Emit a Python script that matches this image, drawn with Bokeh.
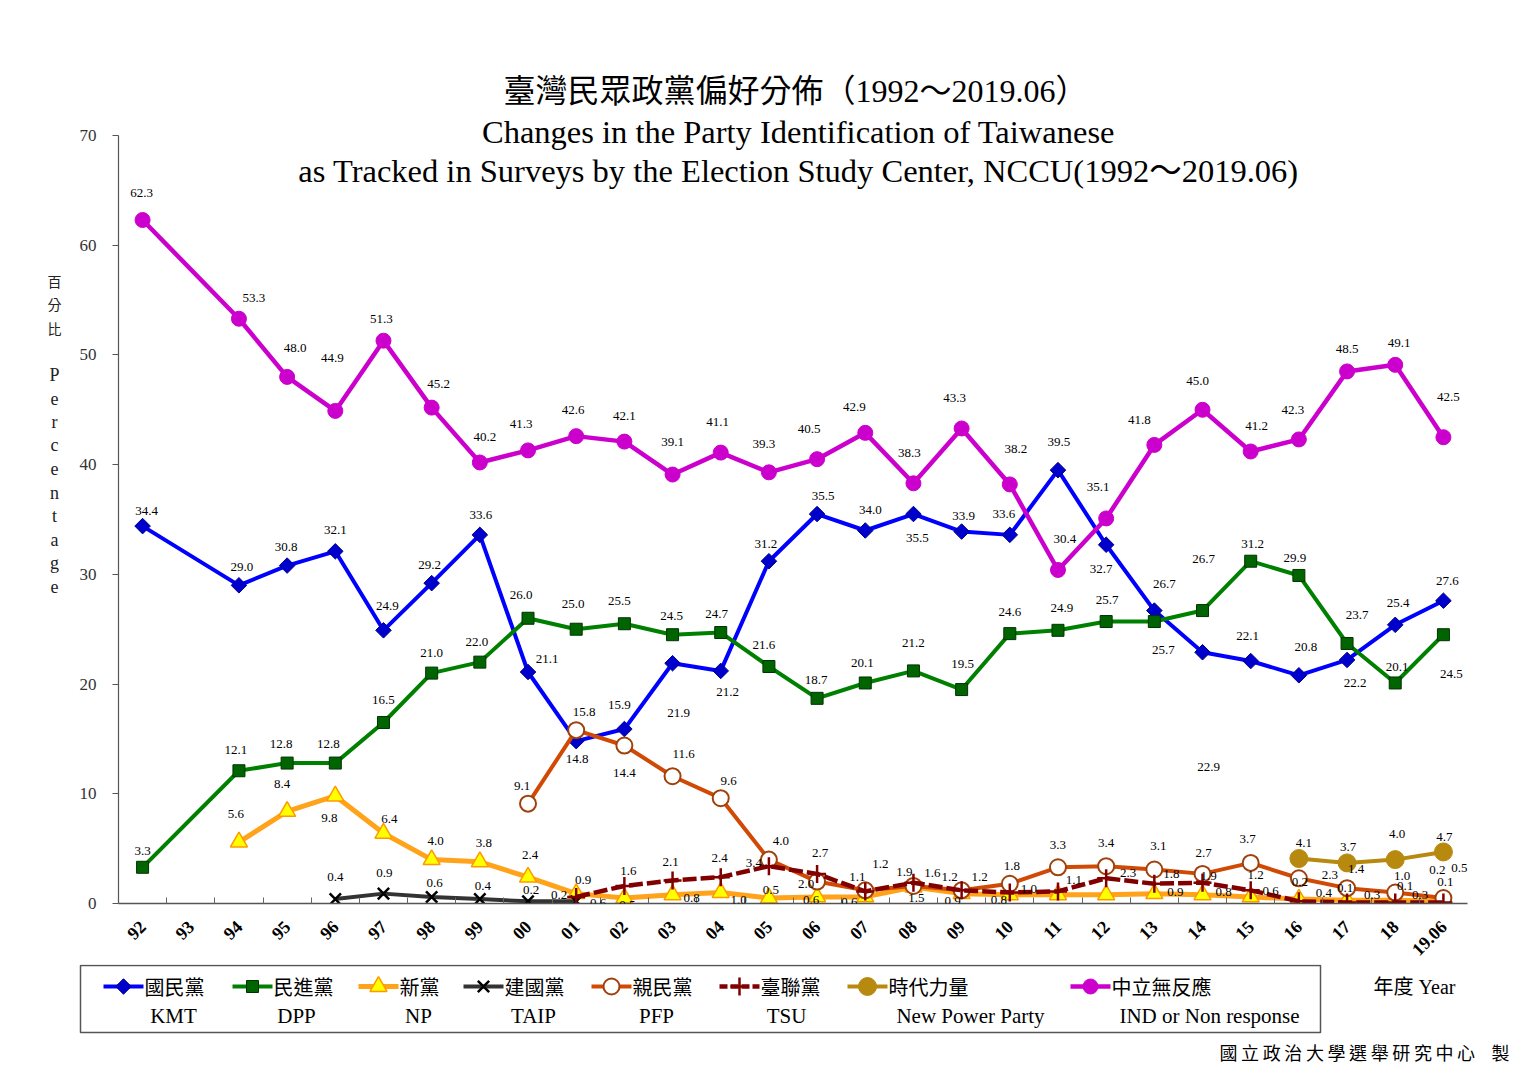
import math
from bokeh.plotting import figure
from bokeh.models import ColumnDataSource, Range1d, FixedTicker, LabelSet
from bokeh.layouts import column, row
from bokeh.embed import file_html
from bokeh.resources import INLINE
from bokeh.core.properties import value

# ---------------- data ----------------
years = ["92", "93", "94", "95", "96", "97", "98", "99", "00", "01", "02", "03", "04",
         "05", "06", "07", "08", "09", "10", "11", "12", "13", "14", "15", "16", "17",
         "18", "19.06"]

kmt = [34.4, None, 29.0, 30.8, 32.1, 24.9, 29.2, 33.6, 21.1, 14.8, 15.9, 21.9, 21.2,
       31.2, 35.5, 34.0, 35.5, 33.9, 33.6, 39.5, 32.7, 26.7, 22.9, 22.1, 20.8, 22.2,
       25.4, 27.6]
dpp = [3.3, None, 12.1, 12.8, 12.8, 16.5, 21.0, 22.0, 26.0, 25.0, 25.5, 24.5, 24.7,
       21.6, 18.7, 20.1, 21.2, 19.5, 24.6, 24.9, 25.7, 25.7, 26.7, 31.2, 29.9, 23.7,
       20.1, 24.5]
np_party = [None, None, 5.6, 8.4, 9.8, 6.4, 4.0, 3.8, 2.4, 0.9, 0.5, 0.8, 1.0,
            0.5, 0.6, 0.6, 1.5, 0.9, 0.8, 0.8, 0.8, 0.9, 0.8, 0.6, 0.4, 0.3,
            0.3, 0.2]
taip = [None, None, None, None, 0.4, 0.9, 0.6, 0.4, 0.2, 0.2] + [None] * 18
pfp = [None] * 8 + [9.1, 15.8, 14.4, 11.6, 9.6, 4.0, 2.0, 1.2, 1.6, 1.2, 1.8, 3.3,
                    3.4, 3.1, 2.7, 3.7, 2.3, 1.4, 1.0, 0.5]
tsu = [None] * 9 + [0.6, 1.6, 2.1, 2.4, 3.4, 2.7, 1.1, 1.9, 1.2, 1.0, 1.1, 2.3, 1.8,
                    1.9, 1.2, 0.2, 0.1, 0.1, 0.1]
npp = [None] * 24 + [4.1, 3.7, 4.0, 4.7]
ind = [62.3, None, 53.3, 48.0, 44.9, 51.3, 45.2, 40.2, 41.3, 42.6, 42.1, 39.1, 41.1,
       39.3, 40.5, 42.9, 38.3, 43.3, 38.2, 30.4, 35.1, 41.8, 45.0, 41.2, 42.3, 48.5,
       49.1, 42.5]
y_ticks = [0, 10, 20, 30, 40, 50, 60, 70]

# ---------------- label placement (style): offset in px (right, down) ----------------
kmt_lab = [(4, -15), (3, -18), (-1, -19), (0, -21), (4, -24), (-2, -18), (1, -20),
           (19, -13), (1, 18), (-5, -24), (6, 50), (7, 21), (-3, -17), (6, -18),
           (5, -20), (4, 24), (2, -16), (-6, -21), (1, -28), (-5, 24), (10, -27),
           (6, 115), (-3, -25), (7, -28), (8, 23), (3, -22), (4, -20)]
dpp_lab = [(0, -16), (-3, -21), (-6, -19), (-7, -19), (0, -22), (0, -20), (-3, -20),
           (-7, -23), (-3, -25), (-5, -23), (-1, -19), (-4, -19), (-5, -22), (-1, -18),
           (-3, -20), (0, -28), (1, -26), (0, -22), (4, -22), (1, -22), (9, 28),
           (1, -52), (2, -17), (-4, -17), (10, -28), (2, -16), (8, 39)]
np_lab = [(-3, -28), (-5, -27), (-6, 22), (6, -14), (4, -19), (4, -19), (2, -22),
          (7, -14), (3, 7), (19, 3), (18, 7), (2, -8), (-6, 3), (-16, 5), (3, 11),
          (-9, 7), (-11, 5), None, None, (21, -2), (21, -3), (20, -6), (25, -6),
          (25, -5), (25, -5), (-6, -31)]
taip_lab = [(0, -22), (1, -21), (3, -14), (3, -13), (3, -11), (-17, -6)]
pfp_lab = [(-6, -18), (8, -18), (0, 27), (11, -22), (8, -17), (12, -19), (-11, 2),
           (15, -26), (19, -13), (18, -13), (2, -18), (0, -22), (0, -23), (4, -23),
           (1, -21), (-3, -24), (31, -3), (9, -19), (7, -17), (16, -30)]
tsu_lab = [(22, 6), (4, -15), (-2, -18), (-1, -19), (-15, -3), (3, -21), (-8, -14),
           (-9, -11), (-12, -13), (19, -4), (16, -11), (22, -5), (17, -10), (6, -7),
           (5, -15), (1, -19), (-2, -14), (10, -16), (2, -20)]
npp_lab = [(5, -16), (1, -16), (2, -26), (1, -15)]
ind_lab = [(-1, -27), (15, -21), (8, -29), (-3, -53), (-2, -22), (7, -24), (5, -25),
           (-7, -26), (-3, -26), (0, -26), (0, -33), (-3, -31), (-5, -28), (-8, -30),
           (-11, -26), (-4, -30), (-7, -30), (6, -35), (7, -31), (-8, -31), (-15, -25),
           (-5, -29), (6, -25), (-6, -29), (0, -22), (4, -22), (5, -40)]

SERIF = "Liberation Serif, Noto Sans CJK TC"
CJK = "Noto Sans CJK TC"

# geometry (page px)
YL_W = 76              # width of the y-title strip
FL, FW = 118, 1349     # frame left / width
AX_Y = 903             # page y of the x axis (value 0)
PX_PER_10 = 109.71     # page px per 10 percentage points
NCAT = len(years)
YTOP = AX_Y / PX_PER_10 * 10   # value at the very top of the frame
MAIN_H = 963
LEG_H = 120


def dxp(px):
    return (px - FL) / (FW / NCAT) - 0.5


def dyp(py):
    return (AX_Y - py) / PX_PER_10 * 10


series = [
    dict(vals=kmt, lab=kmt_lab, color="#0000FF", lw=4, dash="solid", marker="square",
         angle=math.pi / 4, size=11, fill="#0000CD", mline="#00008B", mlw=1),
    dict(vals=dpp, lab=dpp_lab, color="#008000", lw=4, dash="solid", marker="square",
         angle=0, size=12, fill="#006400", mline="#003300", mlw=1),
    dict(vals=np_party, lab=np_lab, color="#FFA31A", lw=5, dash="solid", marker="triangle",
         angle=0, size=17, fill="#FFFF00", mline="#FF9900", mlw=1.5),
    dict(vals=taip, lab=taip_lab, color="#333333", lw=4, dash="solid", marker="x",
         angle=0, size=16, fill="#000000", mline="#000000", mlw=2.5),
    dict(vals=pfp, lab=pfp_lab, color="#D04A05", lw=4, dash="solid", marker="circle",
         angle=0, size=16, fill="#FFFFFF", mline="#A0400A", mlw=2),
    dict(vals=tsu, lab=tsu_lab, color="#800000", lw=4.5, dash="14 4", marker="cross",
         angle=0, size=18, fill="#800000", mline="#800000", mlw=2.5),
    dict(vals=npp, lab=npp_lab, color="#B8890F", lw=4, dash="solid", marker="circle",
         angle=0, size=18, fill="#B8890F", mline="#B8890F", mlw=1),
    dict(vals=ind, lab=ind_lab, color="#CC00CC", lw=4.5, dash="solid", marker="circle",
         angle=0, size=15, fill="#CC00CC", mline="#CC00CC", mlw=1),
]


def bare(fig):
    fig.outline_line_color = None
    fig.xgrid.grid_line_color = None
    fig.ygrid.grid_line_color = None
    fig.background_fill_color = "white"
    fig.border_fill_color = "white"
    fig.frame_align = False


# ---------------- y title strip ----------------
yl = figure(width=YL_W, height=MAIN_H, x_range=Range1d(0, YL_W), y_range=Range1d(MAIN_H, 0),
            min_border=0, output_backend="svg", toolbar_location=None, tools="",
            x_axis_location=None, y_axis_location=None)
bare(yl)
cn_lab = list("百分比")
yl.text([54] * len(cn_lab), [280 + 23.5 * k for k in range(len(cn_lab))], text=cn_lab,
        text_font=value(CJK), text_font_size="14px", text_align="center",
        text_baseline="middle", text_color="#222222")
en_lab = list("Percentage")
yl.text([54] * len(en_lab), [374 + 23.6 * k for k in range(len(en_lab))], text=en_lab,
        text_font=value("Liberation Serif"), text_font_size="18px", text_align="center",
        text_baseline="middle", text_color="#222222")

# ---------------- main chart ----------------
p = figure(frame_width=FW, frame_height=AX_Y, min_border_left=FL - YL_W, min_border_right=60,
           min_border_top=0, min_border_bottom=MAIN_H - AX_Y,
           x_range=Range1d(-0.5, NCAT - 0.5), y_range=Range1d(0, YTOP),
           output_backend="svg", toolbar_location=None, tools="")
bare(p)

xa = p.xaxis[0]
xa.ticker = FixedTicker(ticks=list(range(NCAT)), minor_ticks=[i + 0.5 for i in range(NCAT - 1)])
xa.major_label_overrides = {i: y for i, y in enumerate(years)}
xa.major_tick_line_color = None
xa.minor_tick_in = 6
xa.minor_tick_out = 0
xa.minor_tick_line_color = "#666666"
xa.axis_line_color = "#555555"
xa.axis_line_width = 1.5
xa.major_label_orientation = math.pi / 4
xa.major_label_text_font = "Liberation Serif"
xa.major_label_text_font_style = "bold"
xa.major_label_text_font_size = "18px"
xa.major_label_text_color = "#000000"
xa.major_label_standoff = 14

ya = p.yaxis[0]
ya.ticker = FixedTicker(ticks=y_ticks, minor_ticks=[])
ya.bounds = (y_ticks[0], y_ticks[-1])
ya.major_tick_in = 0
ya.major_tick_out = 6
ya.major_tick_line_color = "#555555"
ya.minor_tick_line_color = None
ya.axis_line_color = "#555555"
ya.axis_line_width = 1.2
ya.major_label_text_font = "Liberation Serif"
ya.major_label_text_font_size = "17px"
ya.major_label_text_color = "#333333"
ya.major_label_standoff = 16

for s in series:
    xs = [i for i, v in enumerate(s["vals"]) if v is not None]
    ys = [v for v in s["vals"] if v is not None]
    src = ColumnDataSource(dict(x=xs, y=ys))
    p.line("x", "y", source=src, line_color=s["color"], line_width=s["lw"],
           line_dash=s["dash"])
    p.scatter("x", "y", source=src, marker=s["marker"], size=s["size"], angle=s["angle"],
              fill_color=s["fill"], line_color=s["mline"], line_width=s["mlw"])
    lx, ly, lt, lxo, lyo = [], [], [], [], []
    for x, y, o in zip(xs, ys, s["lab"]):
        if o is None:
            continue
        lx.append(x)
        ly.append(y)
        lt.append(f"{y:.1f}")
        lxo.append(o[0])
        lyo.append(-o[1])
    lsrc = ColumnDataSource(dict(x=lx, y=ly, t=lt, xo=lxo, yo=lyo))
    p.add_layout(LabelSet(x="x", y="y", text="t", x_offset="xo", y_offset="yo",
                          source=lsrc, text_font=value("Liberation Serif"),
                          text_font_size="13px", text_color="#000000",
                          text_align="center", text_baseline="middle"))

# titles (inside the frame, above the plotted range)
titles = ["臺灣民眾政黨偏好分佈（1992～2019.06）",
          "Changes in the Party Identification of Taiwanese",
          "as Tracked in Surveys by the Election Study Center, NCCU(1992～2019.06)"]
title_px = [(795, 90, "32px"), (798, 131, "32.5px"), (798, 170, "32.5px")]
for t, (tx, ty, fs) in zip(titles, title_px):
    p.text([dxp(tx)], [dyp(ty)], text=[t], text_font=value(SERIF), text_font_size=fs,
           text_align="center", text_baseline="middle", text_color="#000000")

# ---------------- legend / footer panel ----------------
W = FL + FW + 60
LT = MAIN_H
q = figure(width=W, height=LEG_H, x_range=Range1d(0, W), y_range=Range1d(LT + LEG_H, LT),
           min_border=0, output_backend="svg", toolbar_location=None, tools="",
           x_axis_location=None, y_axis_location=None)
bare(q)

q.quad(left=[80], right=[1320], top=[LT + 1], bottom=[1031], fill_color=None,
       line_color="#555555", line_width=1.5)

legend_cn = ["國民黨", "民進黨", "新黨", "建國黨", "親民黨", "臺聯黨", "時代力量", "中立無反應"]
legend_en = ["KMT", "DPP", "NP", "TAIP", "PFP", "TSU", "New Power Party", "IND or Non response"]
leg_line_left = [103, 232, 358, 463, 591, 719, 847, 1070]
leg_en_center = [173, 296, 418, 533, 656, 786, 970, 1209]
ROW1, ROW2 = 985, 1013

for s, cn, en, l0, ec in zip(series, legend_cn, legend_en, leg_line_left, leg_en_center):
    q.line([l0, l0 + 40], [ROW1, ROW1], line_color=s["color"], line_width=s["lw"],
           line_dash=s["dash"] if s["dash"] == "solid" else "8 3")
    q.scatter([l0 + 20], [ROW1], marker=s["marker"], size=s["size"], angle=-s["angle"],
              fill_color=s["fill"], line_color=s["mline"], line_width=s["mlw"])
    q.text([l0 + 41], [ROW1], text=[cn], text_font=value(CJK), text_font_size="20px",
           text_align="left", text_baseline="middle", text_color="#000000")
    q.text([ec], [ROW2 + 1], text=[en], text_font=value("Liberation Serif"),
           text_font_size="21px", text_align="center", text_baseline="middle",
           text_color="#000000")

q.text([1414], [ROW1], text=["年度 Year"], text_font=value(SERIF), text_font_size="20px",
       text_align="center", text_baseline="middle", text_color="#000000")

footer = "國立政治大學選舉研究中心"
fx = [1228 + 21.6 * k for k in range(len(footer))] + [1500]
fch = list(footer) + ["製"]
q.text(fx, [1050] * len(fx), text=fch, text_font=value(CJK), text_font_size="18px",
       text_align="center", text_baseline="middle", text_color="#000000")

layout = column(row(yl, p), q)
open("out.html", "w").write(file_html(layout, INLINE))
